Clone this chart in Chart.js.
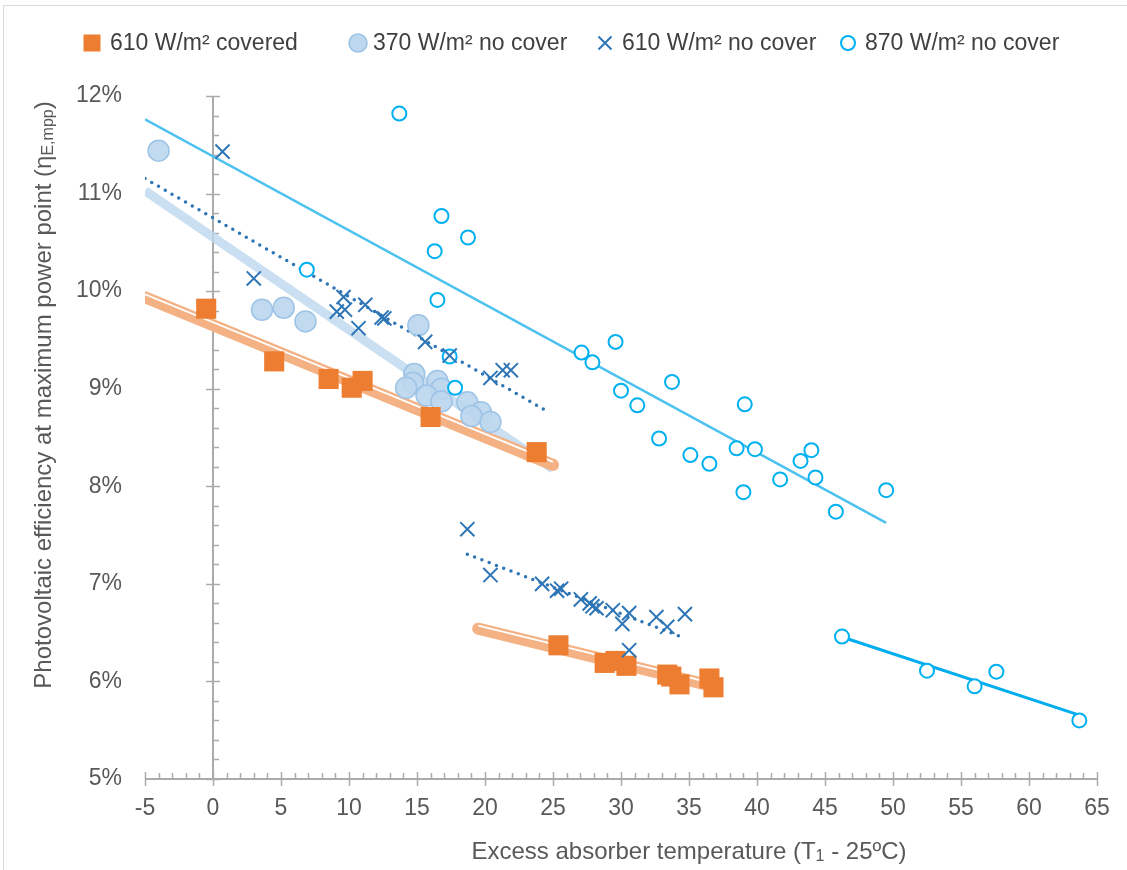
<!DOCTYPE html>
<html>
<head>
<meta charset="utf-8">
<script src="https://cdn.jsdelivr.net/npm/chart.js"></script>
<style>
  body { margin: 0; background: #fff; }
</style>
</head>
<body>
<canvas id="chart" width="1127" height="870"></canvas>
<script>
// 610 W/m2 covered (two groups, each with its own trendline)
const coveredX1 = [-0.5, 4.5, 8.5, 10.2, 11.0, 16.0, 23.8];
const coveredY1 = [9.82, 9.28, 9.10, 9.01, 9.08, 8.71, 8.35];
const coveredX2 = [25.4, 28.8, 29.6, 30.4, 33.4, 33.7, 34.3, 36.5, 36.8];
const coveredY2 = [6.37, 6.19, 6.21, 6.16, 6.07, 6.05, 5.97, 6.03, 5.94];

// 370 W/m2 no cover
const low370X = [-4.0, 3.6, 5.2, 6.8, 15.1, 14.8, 14.7, 14.2, 16.5, 16.8, 15.7, 16.8, 18.7, 19.7, 19.0, 20.4];
const low370Y = [11.44, 9.81, 9.83, 9.69, 9.65, 9.15, 9.06, 9.01, 9.08, 9.00, 8.93, 8.87, 8.86, 8.76, 8.72, 8.66];

// 610 W/m2 no cover
const mid610X1 = [0.7, 3.0, 9.1, 9.6, 9.7, 10.7, 11.2, 12.4, 12.6, 15.6, 17.4, 20.4, 21.3, 21.9];
const mid610Y1 = [11.43, 10.13, 9.79, 9.94, 9.81, 9.62, 9.86, 9.73, 9.72, 9.48, 9.34, 9.11, 9.19, 9.19];
const mid610X2 = [18.7, 20.4, 24.2, 25.3, 25.6, 27.05, 27.7, 27.9, 28.2, 29.4, 30.6, 30.1, 32.6, 33.4, 34.7, 30.6];
const mid610Y2 = [7.56, 7.09, 7.00, 6.93, 6.95, 6.84, 6.80, 6.77, 6.75, 6.73, 6.70, 6.59, 6.66, 6.56, 6.69, 6.32];

// 870 W/m2 no cover
const high870X1 = [6.9, 13.7, 16.3, 16.5, 16.8, 17.4, 17.8, 18.75, 27.1, 27.9, 29.6, 30.0, 31.2, 32.8, 33.75, 35.1, 36.5, 38.5, 39.0, 39.1, 39.85, 41.7, 43.2, 44.0, 44.3, 45.8, 49.5];
const high870Y1 = [10.22, 11.82, 10.41, 9.91, 10.77, 9.33, 9.01, 10.55, 9.37, 9.27, 9.48, 8.98, 8.83, 8.49, 9.07, 8.32, 8.23, 8.39, 7.94, 8.84, 8.38, 8.07, 8.26, 8.37, 8.09, 7.74, 7.96];
const high870X2 = [46.25, 52.5, 56.0, 57.6, 63.7];
const high870Y2 = [6.46, 6.11, 5.95, 6.10, 5.60];

// axis ticks
const xTicks = [-5, 0, 5, 10, 15, 20, 25, 30, 35, 40, 45, 50, 55, 60, 65];
const yTicks = [5, 6, 7, 8, 9, 10, 11, 12];

const legendLabels = ['610 W/m\u00B2 covered', '370 W/m\u00B2 no cover', '610 W/m\u00B2 no cover', '870 W/m\u00B2 no cover'];

const FONT = "'Liberation Sans', Arial, sans-serif";
const TXT = '#595959';

function pts(xs, ys) {
  return xs.map((v, i) => ({ x: v, y: ys[i] }));
}

// least squares fit, like excel linear trendline
function trend(xs, ys, from, to) {
  const n = xs.length;
  const mx = xs.reduce((a, b) => a + b, 0) / n;
  const my = ys.reduce((a, b) => a + b, 0) / n;
  let sxy = 0, sxx = 0;
  for (let i = 0; i < n; i++) {
    sxy += (xs[i] - mx) * (ys[i] - my);
    sxx += (xs[i] - mx) * (xs[i] - mx);
  }
  const b = sxy / sxx;
  const a = my - b * mx;
  return [{ x: from, y: a + b * from }, { x: to, y: a + b * to }];
}

function trendSet(data, color, width, extra) {
  return Object.assign({
    data: data,
    showLine: true,
    borderColor: color,
    borderWidth: width,
    pointRadius: 0,
    fill: false,
    order: 20
  }, extra || {});
}

const orangeBand = '#F4B183';

const datasets = [
  // markers
  { label: legendLabels[2], data: pts(mid610X1.concat(mid610X2), mid610Y1.concat(mid610Y2)),
    pointStyle: 'crossRot', pointRadius: 10, borderColor: '#2E75B6', pointBorderWidth: 2, order: 1 },
  { label: legendLabels[3], data: pts(high870X1.concat(high870X2), high870Y1.concat(high870Y2)),
    pointStyle: 'circle', pointRadius: 7, borderColor: '#00B0F0', backgroundColor: '#ffffff', pointBorderWidth: 2, order: 2 },
  { label: legendLabels[0], data: pts(coveredX1.concat(coveredX2), coveredY1.concat(coveredY2)),
    pointStyle: 'rect', pointRadius: 14.2, borderColor: '#ED7D31', backgroundColor: '#ED7D31', pointBorderWidth: 0, order: 3 },
  { label: legendLabels[1], data: pts(low370X, low370Y),
    pointStyle: 'circle', pointRadius: 10.5, borderColor: '#9DC3E6', backgroundColor: 'rgba(189,215,238,0.92)', pointBorderWidth: 1.5, order: 4 },

  // trendlines
  trendSet(trend(coveredX1, coveredY1, -5, 25), orangeBand, 12, { borderCapStyle: 'round' }),
  trendSet(trend(coveredX1, coveredY1, -5, 25), '#ffffff', 1.8, { order: 19, shiftUp: 3 }),
  trendSet(trend(coveredX2, coveredY2, 19.5, 37), orangeBand, 12, { borderCapStyle: 'round' }),
  trendSet(trend(coveredX2, coveredY2, 19.5, 37), '#ffffff', 1.8, { order: 19, shiftUp: 3 }),
  trendSet(trend(low370X, low370Y, -5, 25), 'rgba(189,215,238,0.8)', 9),
  trendSet(trend(mid610X1, mid610Y1, -5, 24.5), '#2E75B6', 3.5, { borderDash: [0, 7.8], borderCapStyle: 'round', order: 18 }),
  trendSet(trend(mid610X2, mid610Y2, 18.7, 34.7), '#2E75B6', 3.5, { borderDash: [0, 7.8], borderCapStyle: 'round', order: 18 }),
  trendSet(trend(high870X1, high870Y1, -5, 49.5), '#4DC2F0', 2.5, { order: 18 }),
  trendSet(trend(high870X2, high870Y2, 46.25, 63.7), '#00AEEF', 3, { order: 18 })
];

// shift the white stripe of the compound orange line
const shiftPlugin = {
  id: 'shift',
  beforeDatasetDraw(chart, args) {
    const ds = chart.data.datasets[args.index];
    if (ds.shiftUp) { chart.ctx.save(); chart.ctx.translate(0, -ds.shiftUp); }
  },
  afterDatasetDraw(chart, args) {
    const ds = chart.data.datasets[args.index];
    if (ds.shiftUp) chart.ctx.restore();
  }
};

// axes crossing at x = 0 with excel-like tick marks
const axesPlugin = {
  id: 'crossAxes',
  beforeDraw(chart) {
    const ctx = chart.ctx;
    ctx.save();
    ctx.strokeStyle = '#D9D9D9';
    ctx.lineWidth = 1;
    ctx.strokeRect(3.5, 5.5, 1300, 1000);
    ctx.restore();
  },
  beforeDatasetsDraw(chart) {
    const { ctx, scales: { x, y } } = chart;
    const x0 = x.getPixelForValue(0);
    const yb = y.getPixelForValue(5);
    const yt = y.getPixelForValue(12);
    const seg = (a, b, c, d) => { ctx.beginPath(); ctx.moveTo(a, b); ctx.lineTo(c, d); ctx.stroke(); };
    ctx.save();
    ctx.strokeStyle = '#ABABAB';
    ctx.lineWidth = 2;
    seg(x.getPixelForValue(xTicks[0]), yb, x.getPixelForValue(xTicks[xTicks.length - 1]), yb);
    seg(x0, yt, x0, yb);
    ctx.lineWidth = 1.5;
    for (let v = xTicks[0]; v <= xTicks[xTicks.length - 1]; v++) {
      const px = Math.round(x.getPixelForValue(v)) + 0.5;
      if (v % 5 === 0) seg(px, yb - 7, px, yb + 7);
      else seg(px, yb - 6, px, yb);
    }
    for (let i = 0; i <= 35; i++) {
      const py = Math.round(y.getPixelForValue(5 + i * 0.2)) + 0.5;
      if (i % 5 === 0) seg(x0 - 7, py, x0 + 7, py);
      else seg(x0, py, x0 + 6, py);
    }
    ctx.restore();
  }
};

// draws text runs with subscripts
function drawRuns(ctx, runs, cx, cy) {
  const main = '24px ' + FONT, small = '16px ' + FONT;
  let w = 0;
  runs.forEach(r => { ctx.font = r.sub ? small : main; w += ctx.measureText(r.t).width; });
  let px = cx - w / 2;
  runs.forEach(r => {
    ctx.font = r.sub ? small : main;
    ctx.fillText(r.t, px, cy + (r.sub ? 5 : 0));
    px += ctx.measureText(r.t).width;
  });
}

const titlePlugin = {
  id: 'titles',
  afterDraw(chart) {
    const ctx = chart.ctx;
    ctx.save();
    ctx.fillStyle = TXT;
    ctx.textBaseline = 'middle';
    ctx.textAlign = 'left';
    drawRuns(ctx, [{ t: 'Excess absorber temperature (T' }, { t: '1', sub: true }, { t: ' - 25\u00BAC)' }], 689, 852);
    ctx.translate(44, 395);
    ctx.rotate(-Math.PI / 2);
    drawRuns(ctx, [{ t: 'Photovoltaic efficiency at maximum power point (\u03B7' }, { t: 'E,mpp', sub: true }, { t: ')' }], 0, 0);
    ctx.restore();
  }
};

// legend, laid out like the excel one
const legendPlugin = {
  id: 'customLegend',
  afterDraw(chart) {
    const ctx = chart.ctx;
    const items = [
      { mx: 92, tx: 110, kind: 'rect' },
      { mx: 358, tx: 373, kind: 'dot' },
      { mx: 605, tx: 622, kind: 'cross' },
      { mx: 848, tx: 865, kind: 'ring' }
    ];
    const cy = 43;
    ctx.save();
    items.forEach((it, i) => {
      if (it.kind === 'rect') {
        ctx.fillStyle = '#ED7D31';
        ctx.fillRect(it.mx - 8.5, cy - 8.5, 17, 17);
      } else if (it.kind === 'dot') {
        ctx.beginPath(); ctx.arc(it.mx, cy, 9, 0, Math.PI * 2);
        ctx.fillStyle = '#BDD7EE'; ctx.fill();
        ctx.strokeStyle = '#9DC3E6'; ctx.lineWidth = 1.5; ctx.stroke();
      } else if (it.kind === 'cross') {
        ctx.strokeStyle = '#2E75B6'; ctx.lineWidth = 2;
        ctx.beginPath();
        ctx.moveTo(it.mx - 6.5, cy - 6.5); ctx.lineTo(it.mx + 6.5, cy + 6.5);
        ctx.moveTo(it.mx + 6.5, cy - 6.5); ctx.lineTo(it.mx - 6.5, cy + 6.5);
        ctx.stroke();
      } else {
        ctx.beginPath(); ctx.arc(it.mx, cy, 7, 0, Math.PI * 2);
        ctx.strokeStyle = '#00B0F0'; ctx.lineWidth = 2; ctx.stroke();
      }
      ctx.fillStyle = '#404040';
      ctx.font = '23px ' + FONT;
      ctx.textBaseline = 'middle';
      ctx.fillText(legendLabels[i], it.tx, cy + 1);
    });
    ctx.restore();
  }
};

new Chart(document.getElementById('chart'), {
  type: 'scatter',
  data: { datasets: datasets },
  plugins: [axesPlugin, shiftPlugin, titlePlugin, legendPlugin],
  options: {
    responsive: false,
    animation: false,
    events: [],
    layout: { padding: { top: 96, right: 30, left: 0, bottom: 0 } },
    plugins: { legend: { display: false }, tooltip: { enabled: false } },
    scales: {
      x: {
        type: 'linear',
        min: xTicks[0],
        max: xTicks[xTicks.length - 1],
        afterBuildTicks: s => { s.ticks = xTicks.map(v => ({ value: v })); },
        ticks: { color: TXT, font: { family: FONT, size: 23 }, padding: 16 },
        grid: { display: false, drawTicks: false },
        border: { display: false },
        afterFit: s => { s.height = 91; }
      },
      y: {
        min: yTicks[0],
        max: yTicks[yTicks.length - 1],
        afterBuildTicks: s => { s.ticks = yTicks.map(v => ({ value: v })); },
        ticks: { color: TXT, font: { family: FONT, size: 23 }, padding: 23, callback: v => v + '%' },
        grid: { display: false, drawTicks: false },
        border: { display: false },
        afterFit: s => { s.width = 145; }
      }
    }
  }
});
</script>
</body>
</html>
